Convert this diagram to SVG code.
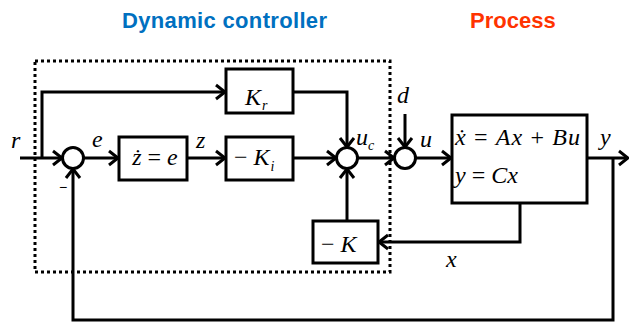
<svg xmlns="http://www.w3.org/2000/svg" width="629" height="323" viewBox="0 0 629 323">
<style>
.box{fill:#fff;stroke:#000;stroke-width:3}
.sum{fill:#fff;stroke:#000;stroke-width:3}
.wire{fill:none;stroke:#000;stroke-width:3;stroke-linejoin:miter}
text.m{font-family:'Liberation Serif','Times New Roman',serif;font-style:italic;font-size:24px;fill:#000}
tspan.op{font-style:normal}
tspan.sub{font-size:14px}
text.title{font-family:'Liberation Sans',Arial,sans-serif;font-weight:bold;font-size:22px}
</style>
<defs>
<marker id="arr" markerUnits="userSpaceOnUse" markerWidth="14" markerHeight="18" refX="12" refY="9" orient="auto" overflow="visible">
<path d="M3 2 L12 9 L3 16" fill="none" stroke="#000" stroke-width="3"/>
</marker>
</defs>
<g id="titles">
<text class="title" x="122" y="28" fill="#0070C0" textLength="205">Dynamic controller</text>
<text class="title" x="470" y="28" fill="#FF3300">Process</text>
</g>
<g id="controller-frame">
<rect x="35" y="61" width="355" height="211" fill="none" stroke="#000" stroke-width="3" stroke-dasharray="3 3"/>
</g>
<g id="connectors">
<path class="wire" d="M20 158 H62" marker-end="url(#arr)"/>
<path class="wire" d="M42 158 V92 H225" marker-end="url(#arr)"/>
<path class="wire" d="M84 158 H118" marker-end="url(#arr)"/>
<path class="wire" d="M187 158 H225" marker-end="url(#arr)"/>
<path class="wire" d="M293 158 H336" marker-end="url(#arr)"/>
<path class="wire" d="M293 92 H347 V147" marker-end="url(#arr)"/>
<path class="wire" d="M358 158 H394" marker-end="url(#arr)"/>
<path class="wire" d="M405 114 V147" marker-end="url(#arr)"/>
<path class="wire" d="M416 158 H451" marker-end="url(#arr)"/>
<path class="wire" d="M587 158 H628" marker-end="url(#arr)"/>
<path class="wire" d="M613 158 V320 H73 V169" marker-end="url(#arr)"/>
<path class="wire" d="M520 202 V242 H379" marker-end="url(#arr)"/>
<path class="wire" d="M347 221 V169" marker-end="url(#arr)"/>
</g>
<g id="sum1">
<circle class="sum" cx="73" cy="158" r="10.5"/>
<text x="63" y="192" font-family="'Liberation Sans',Arial,sans-serif" font-size="14" text-anchor="middle">−</text>
</g>
<g id="sum2">
<circle class="sum" cx="347" cy="158" r="10.5"/>
</g>
<g id="sum3">
<circle class="sum" cx="405" cy="158" r="10.5"/>
</g>
<g id="integrator">
<rect class="box" x="119" y="137" width="68" height="43"/>
<text class="m" x="155" y="165" text-anchor="middle">ż<tspan class="op"> = </tspan>e</text>
</g>
<g id="Kr">
<rect class="box" x="226" y="69" width="67" height="44"/>
<text class="m" x="245" y="105">K<tspan class="sub" dx="1" dy="5">r</tspan></text>
</g>
<g id="Ki">
<rect class="box" x="226" y="137" width="67" height="43"/>
<text class="m" x="234" y="165"><tspan class="op">− </tspan>K<tspan class="sub" dx="1" dy="6">i</tspan></text>
</g>
<g id="K">
<rect class="box" x="313" y="221" width="65" height="42"/>
<text class="m" x="321" y="252"><tspan class="op">− </tspan>K</text>
</g>
<g id="process">
<rect class="box" x="452" y="115" width="135" height="88"/>
<text class="m" x="455" y="145" textLength="125">ẋ<tspan class="op"> = </tspan>Ax<tspan class="op"> + </tspan>Bu</text>
<text class="m" x="455" y="183">y<tspan class="op"> = </tspan>Cx</text>
</g>
<g id="labels">
<text class="m" x="11" y="148">r</text>
<text class="m" x="92" y="147">e</text>
<text class="m" x="196" y="148">z</text>
<text class="m" x="356" y="145">u<tspan class="sub" dy="5">c</tspan></text>
<text class="m" x="397" y="103">d</text>
<text class="m" x="420" y="147">u</text>
<text class="m" x="600" y="145">y</text>
<text class="m" x="446" y="267">x</text>
</g>
</svg>
